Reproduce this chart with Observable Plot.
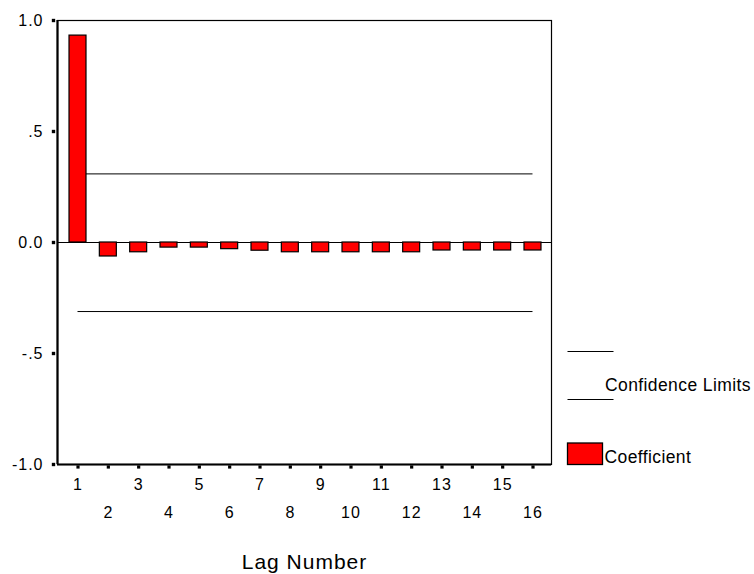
<!DOCTYPE html>
<html>
<head>
<meta charset="utf-8">
<script src="https://cdn.jsdelivr.net/npm/d3@7"></script>
<script src="https://cdn.jsdelivr.net/npm/@observablehq/plot@0.6"></script>
<style>
  body { margin: 0; background: #fff; }
  #wrap { position: relative; width: 754px; height: 574px; font-family: "Liberation Sans", Arial, sans-serif; }
  #legend { position: absolute; left: 0; top: 0; pointer-events: none; }
</style>
</head>
<body>
<div id="wrap"></div>
<script>
// ---- data ----
const lags = [1, 2, 3, 4, 5, 6, 7, 8, 9, 10, 11, 12, 13, 14, 15, 16];
const coefficients = [0.932, -0.063, -0.044, -0.023, -0.023, -0.030, -0.037, -0.044,
                      -0.044, -0.044, -0.044, -0.044, -0.036, -0.036, -0.036, -0.036];
const confUpper = 0.309;
const confLower = -0.311;
const yTicks = [-1, -0.5, 0, 0.5, 1];
const yTickLabels = ["-1.0", "-.5", "0.0", ".5", "1.0"];
const oddLags = lags.filter(d => d % 2 === 1);
const evenLags = lags.filter(d => d % 2 === 0);

const rows = lags.map((lag, i) => ({lag, acf: coefficients[i]}));
const limits = [{y: confUpper}, {y: confLower}];

const xDomain = [0.324, 16.61];
const yDomain = [-1, 1];
const half = 0.28;

const chart = Plot.plot({
  width: 754,
  height: 574,
  marginLeft: 57,
  marginRight: 203,
  marginTop: 20,
  marginBottom: 110,
  style: {fontFamily: "Liberation Sans, Arial, sans-serif", fontSize: "16px", color: "#000", background: "#fff", letterSpacing: "1px", overflow: "visible"},
  x: {domain: xDomain},
  y: {domain: yDomain},
  marks: [
    Plot.frame({stroke: "#000", strokeWidth: 1.2}),
    Plot.ruleY([0], {stroke: "#000", strokeWidth: 1}),
    Plot.ruleY(limits, {y: "y", x1: () => lags[0], x2: () => lags[lags.length - 1], stroke: "#000", strokeWidth: 1}),
    Plot.rectY(rows, {x1: d => d.lag - half, x2: d => d.lag + half, y1: 0, y2: "acf", fill: "#ff0000", stroke: "#000", strokeWidth: 1.2}),
    Plot.ruleX([xDomain[0]], {stroke: "#000", strokeWidth: 2.2}),
    Plot.ruleY([yDomain[0]], {stroke: "#000", strokeWidth: 2.2}),
    // tick squares
    Plot.dot(yTicks, {x: () => xDomain[0], y: d => d, dx: -4, symbol: "square", r: 1.9, fill: "#000", stroke: null}),
    Plot.dot(lags, {x: d => d, y: () => yDomain[0], dy: 2.5, symbol: "square", r: 1.8, fill: "#000", stroke: null}),
    // tick labels
    Plot.axisY(yTicks, {tickSize: 0, tickPadding: 14, fontSize: 16,
      tickFormat: d => yTickLabels[yTicks.indexOf(d)], label: null}),
    Plot.axisX(oddLags, {tickSize: 0, tickPadding: 14, fontSize: 16, tickFormat: d => String(d), label: null}),
    Plot.axisX(evenLags, {tickSize: 0, tickPadding: 42, fontSize: 16, tickFormat: d => String(d), label: null}),
    Plot.axisX([], {tickSize: 0, label: "Lag Number", labelAnchor: "center", labelArrow: "none", labelOffset: 104, fontSize: 21})
  ]
});

const wrap = document.getElementById("wrap");
wrap.appendChild(chart);

// ---- legend (overlay) ----
const legend = d3.select(wrap).append("svg")
  .attr("id", "legend").attr("width", 754).attr("height", 574)
  .style("font-family", "Liberation Sans, Arial, sans-serif");
legend.append("line").attr("x1", 567.5).attr("x2", 613.5).attr("y1", 351.5).attr("y2", 351.5).attr("stroke", "#000").attr("stroke-width", 1.2);
legend.append("line").attr("x1", 567.5).attr("x2", 613.5).attr("y1", 399.5).attr("y2", 399.5).attr("stroke", "#000").attr("stroke-width", 1.2);
legend.append("text").attr("x", 605).attr("y", 390.5).attr("font-size", 17.5).attr("letter-spacing", "0.4px").attr("fill", "#000").text("Confidence Limits");
legend.append("rect").attr("x", 567.5).attr("y", 443).attr("width", 35).attr("height", 21.5).attr("fill", "#ff0000").attr("stroke", "#000").attr("stroke-width", 1.3);
legend.append("text").attr("x", 604.5).attr("y", 462.5).attr("font-size", 17.5).attr("letter-spacing", "0.4px").attr("fill", "#000").text("Coefficient");
</script>
</body>
</html>
